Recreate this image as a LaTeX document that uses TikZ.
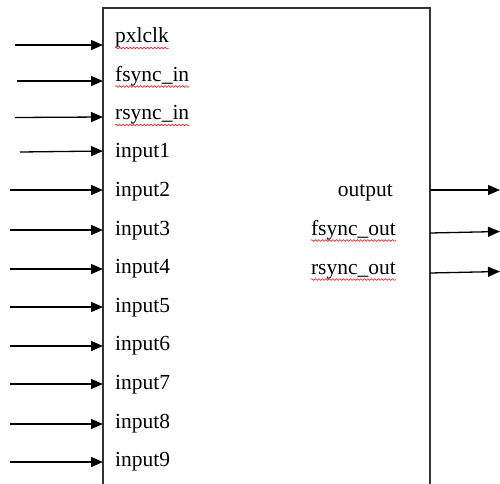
\documentclass[tikz,border=0pt]{standalone}
\usepackage{fontspec}
\setmainfont{Liberation Serif}
\usetikzlibrary{arrows.meta,decorations.pathmorphing}
\begin{document}
\begin{tikzpicture}[x=1pt,y=-1pt,
  lbl/.style={inner sep=0pt,font=\fontsize{21.5}{23}\selectfont},
  arr/.style={line width=1.3pt,-{Triangle[length=12pt,width=10pt]}},
  boxline/.style={line width=1.4pt,draw=black!80},
  squiggle/.style={red,line width=0.5pt,decorate,decoration={snake,amplitude=0.9pt,segment length=3.5pt}}]
\useasboundingbox (0,0) rectangle (500,483);
% box (bottom edge lies outside the picture)
\draw[boxline] (103,495) -- (103,8) -- (430,8) -- (430,495);
% left labels
\node[lbl,anchor=base west] (pxlclk) at (115,42.5) {pxlclk};
\node[lbl,anchor=base west] (fsin) at (115,81) {fsync\_in};
\node[lbl,anchor=base west] (rsin) at (115,119.5) {rsync\_in};
\node[lbl,anchor=base west] (in1) at (115,157.5) {input1};
\node[lbl,anchor=base west] (in2) at (115,196) {input2};
\node[lbl,anchor=base west] (in3) at (115,235) {input3};
\node[lbl,anchor=base west] (in4) at (115,273.5) {input4};
\node[lbl,anchor=base west] (in5) at (115,312) {input5};
\node[lbl,anchor=base west] (in6) at (115,350.5) {input6};
\node[lbl,anchor=base west] (in7) at (115,389.5) {input7};
\node[lbl,anchor=base west] (in8) at (115,428) {input8};
\node[lbl,anchor=base west] (in9) at (115,466.5) {input9};
% right labels
\node[lbl,anchor=base east] (out) at (393,196) {output};
\node[lbl,anchor=base east] (fsout) at (396,235) {fsync\_out};
\node[lbl,anchor=base east] (rsout) at (396,274) {rsync\_out};
% spell-check squiggles
\foreach \n in {pxlclk,fsin,rsin,fsout,rsout}
  \draw[squiggle] ([yshift=-5.5pt]\n.base west) -- ([yshift=-5.5pt]\n.base east);
% input arrow endpoints
\coordinate (s0) at (15,45);   \coordinate (e0) at (103,45);
\coordinate (s1) at (17,81);   \coordinate (e1) at (103,81);
\coordinate (s2) at (15,117.5);\coordinate (e2) at (103,117);
\coordinate (s3) at (20,152);  \coordinate (e3) at (103,151);
\coordinate (s4) at (10,190);  \coordinate (e4) at (103,190);
\coordinate (s5) at (10,230);  \coordinate (e5) at (103,230);
\coordinate (s6) at (10,269);  \coordinate (e6) at (103,269);
\coordinate (s7) at (10,307);  \coordinate (e7) at (103,307);
\coordinate (s8) at (10,346);  \coordinate (e8) at (103,346);
\coordinate (s9) at (10,384);  \coordinate (e9) at (103,384);
\coordinate (s10) at (10,424); \coordinate (e10) at (103,424);
\coordinate (s11) at (10,462); \coordinate (e11) at (103,462);
\foreach \i in {0,...,11} \draw[arr] (s\i) -- (e\i);
% output arrows
\coordinate (o1s) at (430,190); \coordinate (o1e) at (500,190);
\coordinate (o2s) at (430,233); \coordinate (o2e) at (500,231.5);
\coordinate (o3s) at (430,273); \coordinate (o3e) at (500,271.5);
\draw[arr] (o1s) -- (o1e);
\draw[arr] (o2s) -- (o2e);
\draw[arr] (o3s) -- (o3e);
\end{tikzpicture}
\end{document}
